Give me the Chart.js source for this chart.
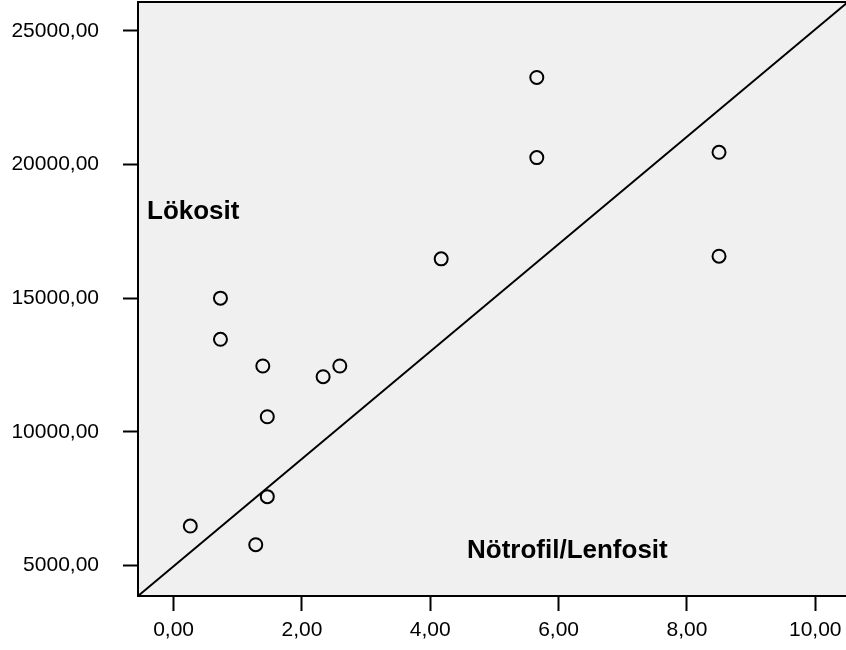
<!DOCTYPE html>
<html>
<head>
<meta charset="utf-8">
<script src="https://cdn.jsdelivr.net/npm/chart.js@4/dist/chart.umd.min.js"></script>
<style>
  html, body { margin: 0; padding: 0; background: #fff; overflow: hidden; }
  #wrap { width: 848px; height: 650px; }
</style>
</head>
<body>
<div id="wrap"><canvas id="scatter"></canvas></div>
<script>
/* -----------------------
data
-------------------------- */
const ratioNL = [0.26, 0.73, 0.73, 1.28, 1.39, 1.46, 1.46, 2.33, 2.59, 4.17, 5.66, 5.66, 8.50, 8.50];
const leukocytes = [6470, 15000, 13460, 5770, 12460, 10560, 7570, 12060, 12460, 16470, 23260, 20260, 20460, 16570];

const xTicks = [0, 2, 4, 6, 8, 10];
const yTicks = [5000, 10000, 15000, 20000, 25000];

const xMin = -0.555, xMax = 10.51;
const yMin = 3851, yMax = 26085;

// diagonal reference line, corner to corner
const refX = [xMin, xMax];
const refY = [yMin, yMax];

const xTitle = "Nötrofil/Lenfosit";
const yTitle = "Lökosit";

const fmt = v => v.toFixed(2).replace(".", ",");

/* -----------------------
plot box + inner titles
-------------------------- */
const plotBox = {
  id: "plotBox",
  beforeDraw(chart) {
    const { ctx, chartArea: a } = chart;
    ctx.save();
    ctx.fillStyle = "#f0f0f0";
    ctx.fillRect(a.left, a.top, a.right - a.left, a.bottom - a.top);
    ctx.restore();
  },
  afterDraw(chart) {
    const { ctx, chartArea: a } = chart;
    ctx.save();
    ctx.strokeStyle = "#000";
    ctx.lineWidth = 2;
    ctx.strokeRect(a.left, a.top, a.right - a.left, a.bottom - a.top);

    ctx.fillStyle = "#000";
    ctx.font = "bold 26px 'Liberation Sans', Arial, sans-serif";
    ctx.textBaseline = "middle";
    ctx.textAlign = "left";
    ctx.fillText(yTitle, a.left + 9, 212);
    ctx.fillText(xTitle, a.left + 329, 551);
    ctx.restore();
  }
};

// kill the label padding chart.js adds round the plot
const noPad = s => {
  s.paddingTop = 0;
  s.paddingBottom = 0;
  s.paddingLeft = 0;
  s.paddingRight = 0;
};

/* -----------------------
chart
-------------------------- */
const tickFont = { family: "'Liberation Sans', Arial, sans-serif", size: 21 };

new Chart(document.getElementById("scatter"), {
  type: "scatter",
  data: {
    datasets: [
      {
        label: "ref",
        type: "line",
        data: refX.map((x, i) => ({ x: x, y: refY[i] })),
        borderColor: "#000",
        borderWidth: 2,
        pointRadius: 0,
        fill: false,
        order: 2
      },
      {
        label: yTitle,
        data: ratioNL.map((x, i) => ({ x: x, y: leukocytes[i] })),
        pointStyle: "circle",
        pointRadius: 6.5,
        pointBorderWidth: 2,
        borderColor: "#000",
        backgroundColor: "rgba(0,0,0,0)",
        order: 1
      }
    ]
  },
  options: {
    responsive: true,
    maintainAspectRatio: false,
    animation: false,
    events: [],
    layout: { autoPadding: false, padding: { top: 2, right: 0, left: 0, bottom: 0 } },
    plugins: {
      legend: { display: false },
      tooltip: { enabled: false }
    },
    scales: {
      x: {
        type: "linear",
        min: xMin,
        max: xMax,
        afterBuildTicks: s => { s.ticks = xTicks.map(v => ({ value: v })); },
        afterFit: s => { s.height = 54; noPad(s); },
        border: { display: false },
        grid: {
          drawOnChartArea: false,
          drawTicks: true,
          tickLength: 15,
          tickWidth: 2,
          tickColor: "#000"
        },
        ticks: {
          color: "#000",
          font: tickFont,
          padding: 7,
          maxRotation: 0,
          callback: v => fmt(v)
        }
      },
      y: {
        type: "linear",
        min: yMin,
        max: yMax,
        afterBuildTicks: s => { s.ticks = yTicks.map(v => ({ value: v })); },
        afterFit: s => { s.width = 138; noPad(s); },
        border: { display: false },
        grid: {
          drawOnChartArea: false,
          drawTicks: true,
          tickLength: 15,
          tickWidth: 2,
          tickColor: "#000"
        },
        ticks: {
          color: "#000",
          font: tickFont,
          padding: 24,
          callback: v => fmt(v)
        }
      }
    }
  },
  plugins: [plotBox]
});
</script>
</body>
</html>
